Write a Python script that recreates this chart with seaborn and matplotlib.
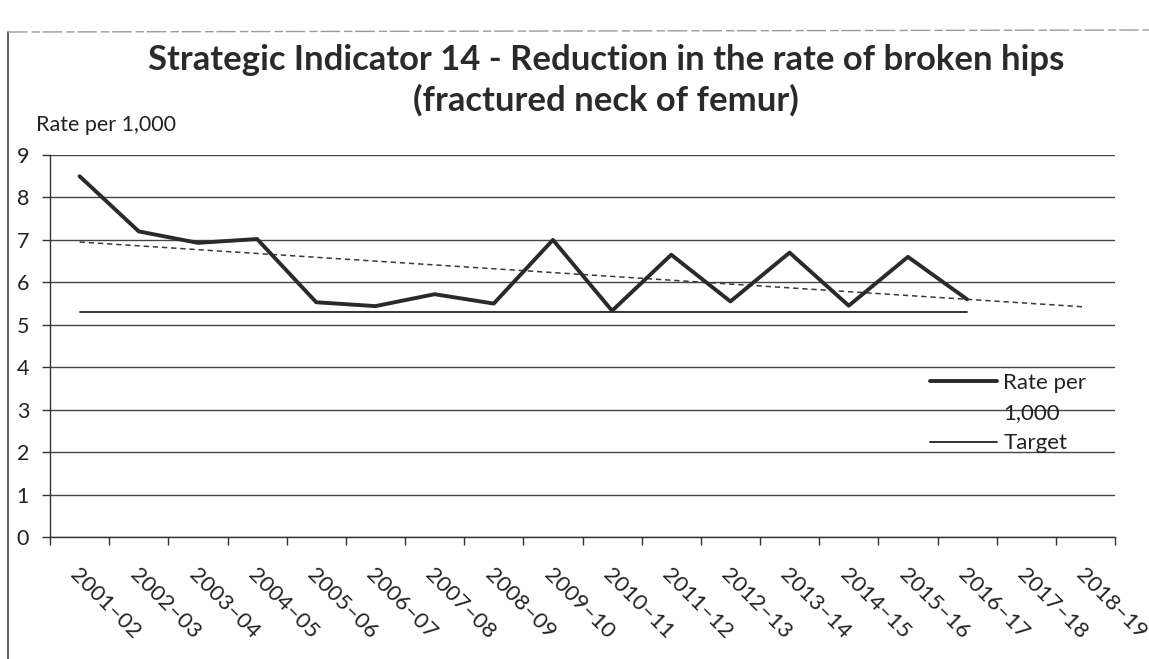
import numpy as np
import pandas as pd
import matplotlib
matplotlib.use("Agg")
import matplotlib.pyplot as plt
from matplotlib.lines import Line2D
from matplotlib.transforms import ScaledTranslation
import seaborn as sns

# data
years = ["2001–02", "2002–03", "2003–04", "2004–05", "2005–06", "2006–07",
         "2007–08", "2008–09", "2009–10", "2010–11", "2011–12", "2012–13",
         "2013–14", "2014–15", "2015–16", "2016–17", "2017–18", "2018–19"]
rate = [8.5, 7.2, 6.93, 7.02, 5.53, 5.44, 5.72, 5.5, 7.0, 5.33,
        6.65, 5.55, 6.7, 5.45, 6.6, 5.6]
target = [5.3] * 16
trend_years = ["2001–02", "2018–19"]
trend = [6.95, 5.42]

title1 = "Strategic Indicator 14 - Reduction in the rate of broken hips"
title2 = "(fractured neck of femur)"

sns.set_theme(style="white")
plt.rcParams['font.family'] = ['Lato', 'DejaVu Sans']

W, H = 1149, 659
fig = plt.figure(figsize=(W / 100, H / 100), dpi=100)
ax = fig.add_axes([50 / W, 1 - 537 / H, (1115 - 50) / W, (537 - 155) / H])

pos = {y: i for i, y in enumerate(years)}
df = pd.DataFrame({"pos": [pos[y] for y in years[:len(rate)]], "rate": rate})
tf = pd.DataFrame({"pos": [pos[y] for y in years[:len(target)]], "target": target})
trf = pd.DataFrame({"pos": [pos[y] for y in trend_years], "trend": trend})

line_col = "#2a2a2a"
txt_col = "#222222"
sns.lineplot(data=trf, x="pos", y="trend", ax=ax, color="#3a3a3a", lw=1.1,
             linestyle=(0, (3.5, 2.5)))
sns.lineplot(data=tf, x="pos", y="target", ax=ax, color="#222222", lw=1.3)
sns.lineplot(data=df, x="pos", y="rate", ax=ax, color=line_col, lw=2.8)

ax.set_xlim(-0.5, len(years) - 0.5)
ax.set_ylim(0, 9)
ax.set_yticks(range(0, 10))
ax.yaxis.grid(True, color="#454545", lw=1.0)
ax.xaxis.grid(False)
ax.set_axisbelow(True)
ax.set_xlabel("")
ax.set_ylabel("")

for s in ["top", "right"]:
    ax.spines[s].set_visible(False)
for s in ["left", "bottom"]:
    ax.spines[s].set_color("#333333")
    ax.spines[s].set_linewidth(1.0)

# Excel style: tick marks between categories, labels at centres
ax.set_xticks(np.arange(-0.5, len(years), 1.0))
ax.set_xticklabels([])
ax.set_xticks(np.arange(len(years)), minor=True)
ax.set_xticklabels(years, minor=True, rotation=-45, ha="left", va="center",
                   rotation_mode="anchor", fontsize=16, color=txt_col)
ax.tick_params(axis="x", which="major", bottom=True, length=6, width=1, color="#333333")
ax.tick_params(axis="x", which="minor", bottom=True, length=0, pad=25)
ax.tick_params(axis="y", left=True, length=6, width=1, color="#333333",
               labelsize=15.5, pad=9, labelcolor=txt_col)
shift = ScaledTranslation(-6 / 100, 0, fig.dpi_scale_trans)
for lab in ax.get_xticklabels(minor=True):
    lab.set_transform(lab.get_transform() + shift)

fig.text(36 / W, 1 - 125 / H, "Rate per 1,000", fontsize=15.5, va="center",
         ha="left", color=txt_col)

# title, fitted to the width it takes in the reference
t1 = fig.text(606 / W, 1 - 60 / H, title1, fontsize=20, fontweight="bold",
              ha="center", va="center", color="#2a2a2a")
fig.canvas.draw()
w1 = t1.get_window_extent().width
t1.set_fontsize(20 * 917 / w1)
fig.text(606 / W, 1 - 100 / H, title2, fontsize=t1.get_fontsize(), fontweight="bold",
         ha="center", va="center", color="#2a2a2a")

handles = [Line2D([], [], color=line_col, lw=2.8),
           Line2D([], [], color="none"),
           Line2D([], [], color="#222222", lw=1.3)]
ax.legend(handles, ["Rate per", "1,000", "Target"], loc="center left",
          bbox_to_anchor=(930 / W, 1 - 413 / H), bbox_transform=fig.transFigure,
          frameon=False, fontsize=16, handlelength=3.0, handletextpad=0.3,
          labelspacing=0.47, borderpad=0, borderaxespad=0, labelcolor=txt_col)

# page border of the scanned sheet
fig.add_artist(Line2D([8 / W, 8 / W], [0, 1 - 32 / H], color="#444444", lw=1.2))
fig.add_artist(Line2D([8 / W, 1], [1 - 32 / H, 1 - 30 / H], color="#9a9a9a", lw=1.0,
                      linestyle=(0, (14, 3, 6, 2))))

fig.savefig("out.png", dpi=100)
